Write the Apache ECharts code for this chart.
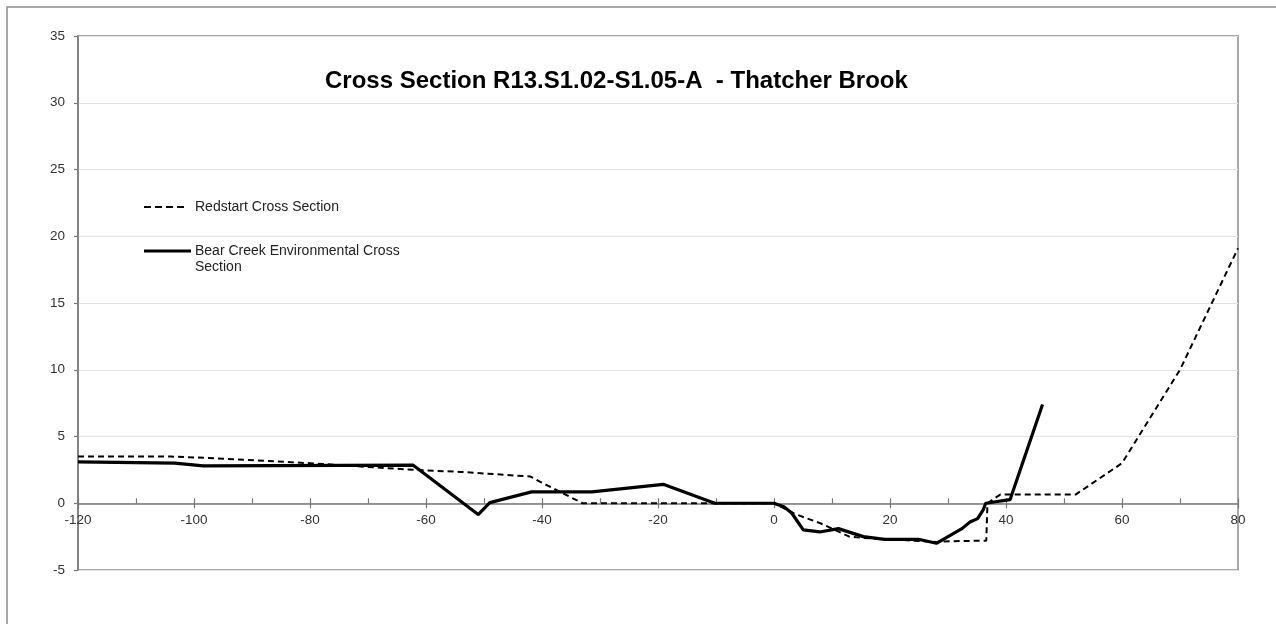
<!DOCTYPE html>
<html>
<head>
<meta charset="utf-8">
<script src="https://cdn.jsdelivr.net/npm/echarts@6/dist/echarts.min.js"></script>
<style>
  html, body { margin: 0; padding: 0; background: #fff; }
  #chart { width: 1276px; height: 624px; }
</style>
</head>
<body>
<div id="chart"></div>
<script>
// Station (ft) and elevation (ft) for each surveyed cross section
const redstartStation = [-120, -104, -98, -80, -62, -54, -42, -40.3, -33, -10, 0, 3.6, 8, 13, 15.4, 20, 28, 30.3, 36.6, 36.8, 39, 52, 60, 70, 80];
const redstartElev    = [3.5, 3.5, 3.4, 3.0, 2.5, 2.35, 2.0, 1.6, 0, 0, 0, -0.8, -1.5, -2.5, -2.6, -2.7, -2.9, -2.85, -2.8, 0, 0.65, 0.65, 3.0, 10.0, 19.1];

const bearCreekStation = [-120, -103.3, -98.4, -62.2, -51, -49, -41.8, -31.4, -19.1, -10.2, 0, 1.7, 3.05, 5.05, 7.9, 11.1, 15.4, 19.1, 24.9, 28, 32.4, 33.8, 35.1, 36.1, 36.5, 40.7, 46.3];
const bearCreekElev    = [3.1, 3.0, 2.8, 2.85, -0.85, 0.05, 0.85, 0.85, 1.42, 0, 0, -0.27, -0.73, -2.0, -2.15, -1.9, -2.5, -2.7, -2.7, -3.0, -1.9, -1.4, -1.15, -0.47, 0, 0.27, 7.4];

const seriesNames = ['Redstart Cross Section', 'Bear Creek Environmental Cross\nSection'];
const chartTitle = 'Cross Section R13.S1.02-S1.05-A  - Thatcher Brook';

const pairs = (xs, ys) => xs.map((x, i) => [x, ys[i]]);

const FONT = '"Liberation Sans", Arial, sans-serif';

// plot box and value ranges
const GRID = { left: 78, top: 36, width: 1160, height: 534 };
const Y_MIN = -5, Y_MAX = 35;
// the station axis runs along elevation 0; shift it up from the bottom edge of the plot
const zeroOffset = -GRID.height * (0 - Y_MIN) / (Y_MAX - Y_MIN);

const DASH = [6, 4];

const chart = echarts.init(document.getElementById('chart'), null, { renderer: 'canvas' });

chart.setOption({
  animation: false,
  backgroundColor: '#fff',
  title: {
    text: chartTitle,
    left: 320,
    top: 64,
    textStyle: { fontFamily: FONT, fontSize: 24, fontWeight: 'bold', color: '#000' }
  },
  grid: Object.assign({}, GRID, {
    show: true, borderColor: '#8c8c8c', borderWidth: 1.5, backgroundColor: 'transparent'
  }),
  xAxis: [
    {
      type: 'value', min: -120, max: 80, interval: 20, position: 'bottom', offset: zeroOffset,
      axisLine: { show: true, onZero: false, lineStyle: { color: '#777', width: 1.5 } },
      axisTick: { show: true, inside: false, length: 5, lineStyle: { color: '#777', width: 1.2 } },
      axisLabel: { color: '#333', fontFamily: FONT, fontSize: 13.5, margin: 10 },
      splitLine: { show: false }
    },
    {
      type: 'value', min: -120, max: 80, interval: 10, position: 'bottom', offset: zeroOffset,
      axisLine: { show: false, onZero: false },
      axisTick: { show: true, inside: true, length: 5, lineStyle: { color: '#777', width: 1.2 } },
      axisLabel: { show: false },
      splitLine: { show: false }
    }
  ],
  yAxis: {
    type: 'value', min: Y_MIN, max: Y_MAX, interval: 5,
    axisLine: { show: true, onZero: false, lineStyle: { color: '#777', width: 1.5 } },
    axisTick: { show: true, inside: false, length: 4, lineStyle: { color: '#777', width: 1.2 } },
    axisLabel: { color: '#333', fontFamily: FONT, fontSize: 13.5, margin: 13 },
    splitLine: { show: true, lineStyle: { color: '#e2e2e2', width: 1 } }
  },
  series: [
    {
      name: seriesNames[0], type: 'line', xAxisIndex: 0, symbol: 'none',
      data: pairs(redstartStation, redstartElev),
      lineStyle: { color: '#000', width: 2, type: DASH },
      z: 3
    },
    {
      name: seriesNames[1], type: 'line', xAxisIndex: 0, symbol: 'none',
      data: pairs(bearCreekStation, bearCreekElev),
      lineStyle: { color: '#000', width: 3.2 },
      z: 4
    }
  ],
  graphic: [
    // outer chart frame
    { type: 'rect', shape: { x: 7, y: 7, width: 1300, height: 700 }, style: { fill: 'none', stroke: '#8c8c8c', lineWidth: 1.5 }, silent: true, z: -1 },
    // legend keys
    { type: 'line', shape: { x1: 144, y1: 207, x2: 184, y2: 207 }, style: { stroke: '#000', lineWidth: 2, lineDash: [7, 4] } },
    { type: 'text', x: 195, y: 207, style: { text: seriesNames[0], font: '14px ' + FONT, fill: '#222', verticalAlign: 'middle' } },
    { type: 'line', shape: { x1: 144, y1: 251, x2: 191, y2: 251 }, style: { stroke: '#000', lineWidth: 3.2 } },
    { type: 'text', x: 195, y: 243.5, style: { text: seriesNames[1], font: '14px ' + FONT, fill: '#222', verticalAlign: 'top', lineHeight: 15.5 } }
  ]
});
</script>
</body>
</html>
